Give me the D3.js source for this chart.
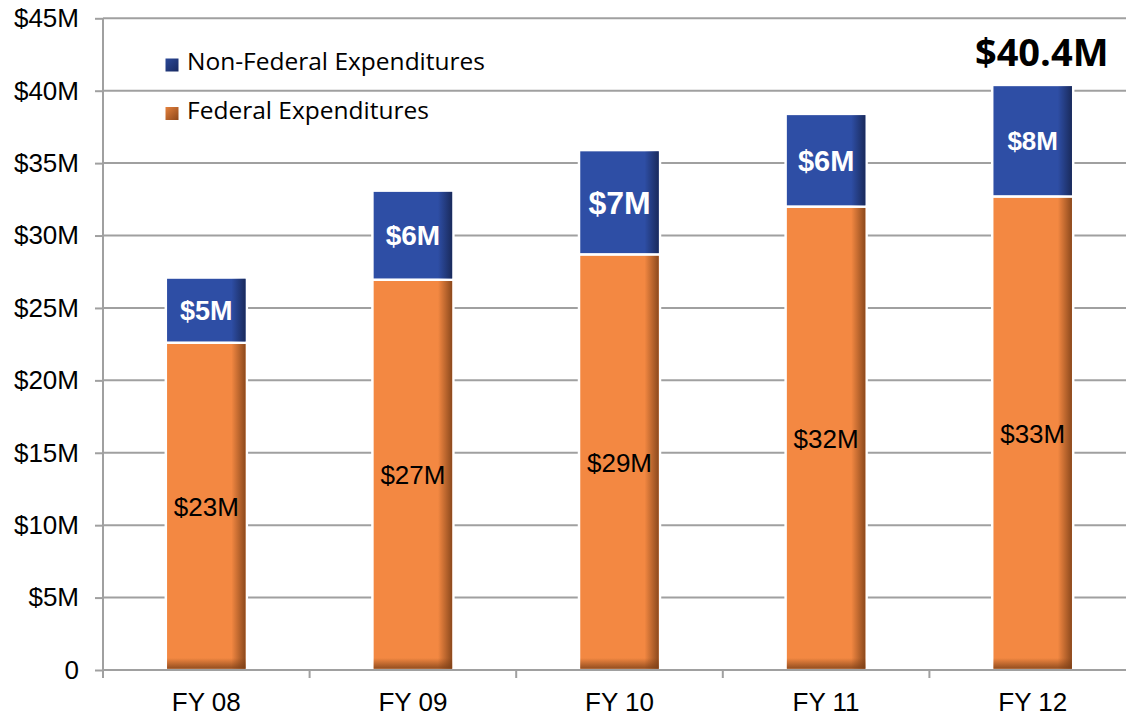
<!DOCTYPE html>
<html>
<head>
<meta charset="utf-8">
<script src="https://cdn.jsdelivr.net/npm/d3@7"></script>
<style>
  body { margin: 0; background: #fff; }
  svg { display: block; }
</style>
</head>
<body>
<svg id="drawing_region"></svg>
<script>
// data ($M)
const years = ["FY 08", "FY 09", "FY 10", "FY 11", "FY 12"];
const federal = [22.6, 26.95, 28.7, 32.0, 32.7];
const nonFederal = [4.5, 6.15, 7.2, 6.4, 7.7];
const yTicks = [0, 5, 10, 15, 20, 25, 30, 35, 40, 45];
const seriesNames = ["Non-Federal Expenditures", "Federal Expenditures"];

// label font sizes for the white labels (they differ in the original)
const nonFedLabelSize = [27, 28, 32, 29, 26];

const width = 1126, height = 717;
const svg = d3.select("#drawing_region")
    .attr("width", width)
    .attr("height", height);

const defs = svg.append("defs");

// gradients: darker right edge and darker bottom
function edgeGrad(id, dark) {
    const g = defs.append("linearGradient").attr("id", id)
        .attr("x1", "0").attr("x2", "1").attr("y1", "0").attr("y2", "0");
    g.append("stop").attr("offset", "0.82").attr("stop-color", dark).attr("stop-opacity", 0);
    g.append("stop").attr("offset", "1").attr("stop-color", dark).attr("stop-opacity", 0.85);
}
edgeGrad("blueEdge", "#16244f");
edgeGrad("orangeEdge", "#7a3e16");

const bottomGrad = defs.append("linearGradient").attr("id", "orangeBottom")
    .attr("x1", "0").attr("x2", "0").attr("y1", "0").attr("y2", "1");
bottomGrad.append("stop").attr("offset", "0").attr("stop-color", "#7a3e16").attr("stop-opacity", 0);
bottomGrad.append("stop").attr("offset", "1").attr("stop-color", "#7a3e16").attr("stop-opacity", 0.8);

const legBlue = defs.append("linearGradient").attr("id", "legBlue")
    .attr("x1", "0").attr("x2", "1").attr("y1", "0").attr("y2", "1");
legBlue.append("stop").attr("offset", "0").attr("stop-color", "#2c4a9a");
legBlue.append("stop").attr("offset", "1").attr("stop-color", "#16275e");
const legOrange = defs.append("linearGradient").attr("id", "legOrange")
    .attr("x1", "0").attr("x2", "1").attr("y1", "0").attr("y2", "1");
legOrange.append("stop").attr("offset", "0").attr("stop-color", "#e8843f");
legOrange.append("stop").attr("offset", "1").attr("stop-color", "#8a4418");

// scales
const plotLeft = 103, plotRight = 1136, plotTop = 18.3, plotBottom = 670;
const x = d3.scaleBand().domain(years).range([plotLeft, plotRight]).padding(0);
const y = d3.scaleLinear().domain([0, 45]).range([plotBottom, plotTop]);
const barW = x.bandwidth() * 0.392;
const cx = d => x(d) + x.bandwidth() / 2;
const inset = 1.25;

const gridColor = "#a0a0a0";

// gridlines
svg.append("g")
    .selectAll("line")
    .data(yTicks.filter(t => t > 0))
    .join("line")
    .attr("x1", plotLeft).attr("x2", width)
    .attr("y1", d => y(d)).attr("y2", d => y(d))
    .attr("stroke", gridColor).attr("stroke-width", 2);

// y axis
const yAxis = d3.axisLeft(y)
    .tickValues(yTicks)
    .tickSize(8)
    .tickSizeOuter(0)
    .tickPadding(16)
    .tickFormat(d => d === 0 ? "0" : "$" + d + "M");
const yg = svg.append("g")
    .attr("transform", `translate(${plotLeft},0)`)
    .call(yAxis);
yg.select(".domain").attr("stroke", gridColor).attr("stroke-width", 2)
    .attr("d", `M0,${plotTop}V${plotBottom + 8}`);
yg.selectAll(".tick line").attr("stroke", gridColor).attr("stroke-width", 2);
yg.selectAll(".tick text")
    .attr("font-family", "Liberation Sans, Arial, sans-serif")
    .attr("font-size", 26).attr("fill", "#000");

// bars
const rows = years.map((yr, i) => ({ yr, fed: federal[i], non: nonFederal[i], i }));
const bars = svg.append("g");

// federal segments
bars.selectAll(".fed")
    .data(rows)
    .join("rect")
    .attr("class", "fed")
    .attr("x", d => cx(d.yr) - barW / 2)
    .attr("y", d => y(d.fed))
    .attr("width", barW)
    .attr("height", d => y(0) - y(d.fed))
    .attr("fill", "#f38842")
    .attr("stroke", "#fff").attr("stroke-width", 2.5);
bars.selectAll(".fedEdge")
    .data(rows)
    .join("rect")
    .attr("x", d => cx(d.yr) - barW / 2 + inset)
    .attr("y", d => y(d.fed) + inset)
    .attr("width", barW - 2 * inset)
    .attr("height", d => y(0) - y(d.fed) - 2 * inset)
    .attr("fill", "url(#orangeEdge)");
bars.selectAll(".fedBottom")
    .data(rows)
    .join("rect")
    .attr("x", d => cx(d.yr) - barW / 2 + inset)
    .attr("y", y(0) - 12)
    .attr("width", barW - 2 * inset)
    .attr("height", 12 - inset)
    .attr("fill", "url(#orangeBottom)");

// non-federal segments
bars.selectAll(".non")
    .data(rows)
    .join("rect")
    .attr("class", "non")
    .attr("x", d => cx(d.yr) - barW / 2)
    .attr("y", d => y(d.fed + d.non))
    .attr("width", barW)
    .attr("height", d => y(d.fed) - y(d.fed + d.non))
    .attr("fill", "#2e4ea5")
    .attr("stroke", "#fff").attr("stroke-width", 2.5);
bars.selectAll(".nonEdge")
    .data(rows)
    .join("rect")
    .attr("x", d => cx(d.yr) - barW / 2 + inset)
    .attr("y", d => y(d.fed + d.non) + inset)
    .attr("width", barW - 2 * inset)
    .attr("height", d => y(d.fed) - y(d.fed + d.non) - 2 * inset)
    .attr("fill", "url(#blueEdge)");

// x axis line and ticks
svg.append("line")
    .attr("x1", plotLeft).attr("x2", width)
    .attr("y1", y(0)).attr("y2", y(0))
    .attr("stroke", gridColor).attr("stroke-width", 2);
svg.append("g")
    .selectAll("line")
    .data(years.slice(1))
    .join("line")
    .attr("x1", d => x(d)).attr("x2", d => x(d))
    .attr("y1", y(0)).attr("y2", y(0) + 8)
    .attr("stroke", gridColor).attr("stroke-width", 2);

const xAxis = d3.axisBottom(x).tickSize(0).tickPadding(0).tickSizeOuter(0);
const xg = svg.append("g")
    .attr("transform", `translate(0,${y(0)})`)
    .call(xAxis);
xg.select(".domain").remove();
xg.selectAll(".tick text")
    .attr("dy", null)
    .attr("y", 41)
    .attr("font-family", "Liberation Sans, Arial, sans-serif")
    .attr("font-size", 26).attr("fill", "#000");

// value labels
svg.append("g")
    .selectAll("text")
    .data(rows)
    .join("text")
    .attr("x", d => cx(d.yr))
    .attr("y", d => (y(0) + y(d.fed)) / 2)
    .attr("dy", "0.36em")
    .attr("text-anchor", "middle")
    .attr("font-family", "Liberation Sans, Arial, sans-serif")
    .attr("font-size", 26)
    .attr("fill", "#000")
    .text(d => "$" + Math.round(d.fed) + "M");

svg.append("g")
    .selectAll("text")
    .data(rows)
    .join("text")
    .attr("x", d => cx(d.yr))
    .attr("y", d => (y(d.fed) + y(d.fed + d.non)) / 2)
    .attr("dy", "0.36em")
    .attr("text-anchor", "middle")
    .attr("font-family", "Liberation Sans, Arial, sans-serif")
    .attr("font-weight", "bold")
    .attr("font-size", d => nonFedLabelSize[d.i])
    .attr("fill", "#fff")
    .text(d => "$" + Math.round(d.non) + "M");

// total on last bar
const last = rows[rows.length - 1];
svg.append("text")
    .attr("x", cx(last.yr) + 9)
    .attr("y", y(last.fed + last.non) - 19)
    .attr("text-anchor", "middle")
    .attr("font-family", "Open Sans, sans-serif")
    .attr("font-weight", "bold")
    .attr("font-size", 38)
    .attr("fill", "#000")
    .text("$" + (last.fed + last.non).toFixed(1) + "M");

// legend
const legend = svg.append("g");
const legFills = ["url(#legBlue)", "url(#legOrange)"];
seriesNames.forEach((name, i) => {
    const ly = 65 + i * 48.5;
    legend.append("rect")
        .attr("x", 165).attr("y", ly - 7)
        .attr("width", 14).attr("height", 14)
        .attr("fill", legFills[i])
        .attr("stroke", "#fff").attr("stroke-width", 1);
    legend.append("text")
        .attr("x", 187).attr("y", ly + 5)
        .attr("font-family", "Open Sans, sans-serif")
        .attr("font-size", 24.5)
        .attr("fill", "#000")
        .text(name);
});
</script>
</body>
</html>
